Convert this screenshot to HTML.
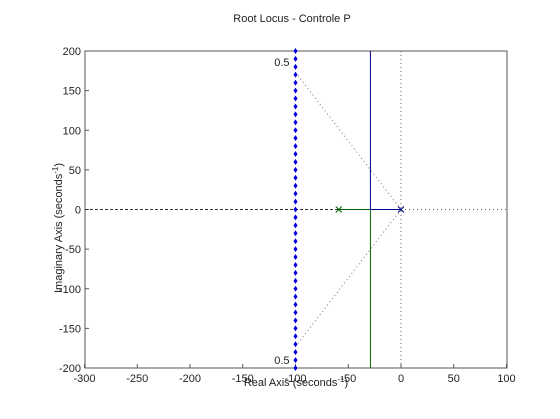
<!DOCTYPE html>
<html><head><meta charset="utf-8"><style>
body{margin:0;background:#fff;}
svg text{font-family:"Liberation Sans",sans-serif;font-size:11px;fill:#222;}
</style></head><body>
<svg width="560" height="414" xmlns="http://www.w3.org/2000/svg">
<rect width="560" height="414" fill="#fff"/>
<text x="292" y="22" text-anchor="middle">Root Locus - Controle P</text>
<rect x="85" y="51" width="422" height="317" fill="#fff" stroke="#555"/>
<g id="ticks"></g>
<g id="marks"></g>
<text x="296" y="386" text-anchor="middle">Real Axis (seconds<tspan dy="-4" font-size="8">-1</tspan><tspan dy="4">)</tspan></text>
<text transform="translate(62,228) rotate(-90)" text-anchor="middle" font-size="10.5">Imaginary Axis (seconds<tspan dy="-4" font-size="8">-1</tspan><tspan dy="4">)</tspan></text>
</svg>
<script>
const xTicks=[-300,-250,-200,-150,-100,-50,0,50,100];
const yTicks=[-200,-150,-100,-50,0,50,100,150,200];
const poles=[-59,0];
const breakaway=[-29];
const asymptoteX=[-100];
const markerImag=[-200,-190,-180,-170,-160,-150,-140,-130,-120,-110,-100,-90,-80,-70,-60,-50,-40,-30,-20,-10,0,10,20,30,40,50,60,70,80,90,100,110,120,130,140,150,160,170,180,190,200];
const dampingRe=[-100];
const dampingIm=[173];
const X=v=>401+(v)*1.055, Y=v=>209.5-v*0.7925;
const NS='http://www.w3.org/2000/svg';
function mk(t,a,p){const e=document.createElementNS(NS,t);for(const k in a)e.setAttribute(k,a[k]);p.appendChild(e);return e;}
const tk=document.getElementById('ticks'), mg=document.getElementById('marks');
xTicks.forEach(v=>{
 const l=mk('line',{x1:X(v),x2:X(v),y1:368,y2:364,stroke:'#555'},tk);
 
 
 const t=mk('text',{x:X(v),y:382,'text-anchor':'middle'},tk);t.textContent=v;
 
 
});
yTicks.forEach(v=>{
 const l=mk('line',{x1:85,x2:89,y1:Y(v),y2:Y(v),stroke:'#555'},tk);
 
 
 const t=mk('text',{x:81,y:Y(v)+4,'text-anchor':'end'},tk);t.textContent=v;
 
 
});
let a=mk('line',{x1:85,x2:X(poles[0]),y1:Y(0),y2:Y(0),stroke:'#333','stroke-dasharray':'3,2'},mg);


a=mk('line',{x1:X(0),x2:507,y1:Y(0),y2:Y(0),stroke:'#666','stroke-dasharray':'1,3'},mg);


a=mk('line',{x1:X(0),x2:X(0),y1:51,y2:368,stroke:'#666','stroke-dasharray':'1,3'},mg);


[1,-1].forEach(s=>{
 const d=mk('line',{x1:X(0),y1:Y(0),x2:X(dampingRe[0]),y2:Y(s*dampingIm[0]),stroke:'#777','stroke-dasharray':'1,3'},mg);
 
 
 const t=mk('text',{x:X(dampingRe[0])-6,y:Y(s*200)+(s>0?15:-4),'text-anchor':'end'},mg);t.textContent='0.5';
 
 
});
const bx=X(breakaway[0]);
let b=mk('polyline',{points:`${X(poles[0])},${Y(0)} ${bx},${Y(0)} ${bx},${Y(-200)}`,fill:'none',stroke:'#006400'},mg);


b=mk('polyline',{points:`${X(poles[1])},${Y(0)} ${bx},${Y(0)} ${bx},${Y(200)}`,fill:'none',stroke:'#00008b'},mg);


markerImag.forEach(v=>{
 const cx=X(asymptoteX[0]),cy=Y(v);
 const p=mk('path',{d:`M${cx},${cy-3}L${cx+2},${cy}L${cx},${cy+3}L${cx-2},${cy}Z`,fill:'#0000e0'},mg);
 
 
});
poles.forEach(v=>{
 const cx=X(v),cy=Y(0);
 const p=mk('path',{d:`M${cx-3},${cy-3}L${cx+3},${cy+3}M${cx-3},${cy+3}L${cx+3},${cy-3}`,stroke:v===0?'#00008b':'#006400'},mg);
 
 
});
</script>
</body></html>
